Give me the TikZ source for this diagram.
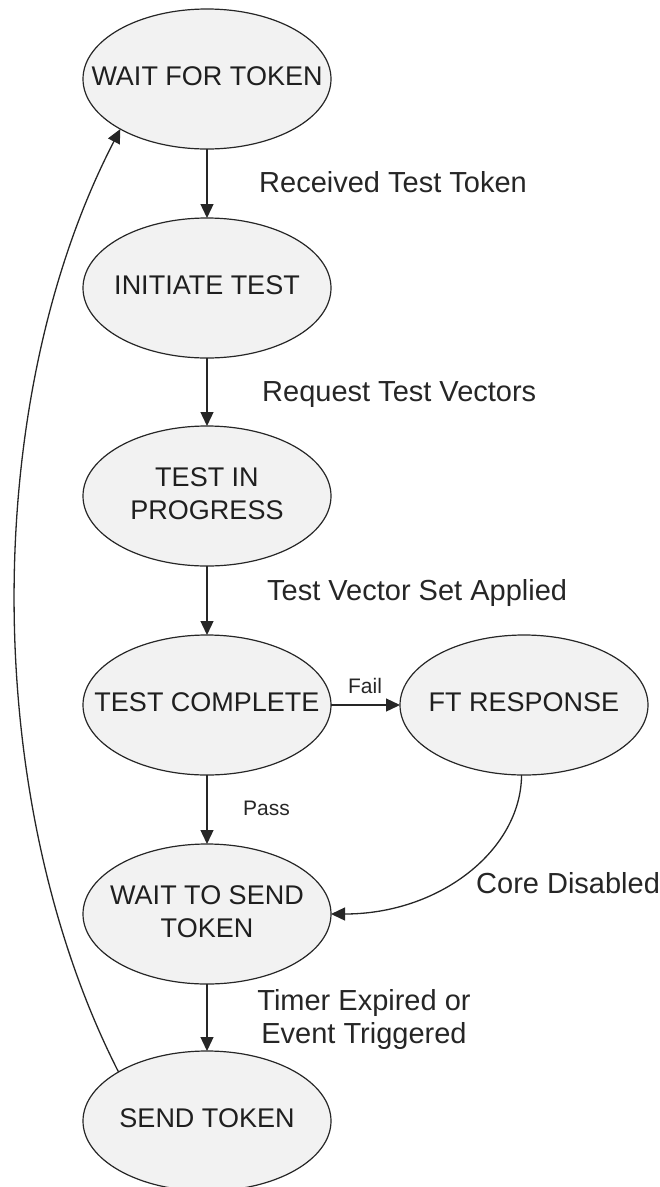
\documentclass[tikz,border=0pt]{standalone}
\usepackage{fontspec}
\setmainfont{Liberation Sans}
\usetikzlibrary{shapes.geometric, arrows.meta}
% state text: centred lines that do not widen the ellipse
\newcommand\statetext[1]{\makebox[0pt]{\begin{tabular}{@{}c@{}}#1\end{tabular}}}

\begin{document}
\begin{tikzpicture}[x=1pt, y=-1pt,
  state/.style={ellipse, draw=black!85, line width=1.2pt, fill=black!5,
    minimum width=248pt, minimum height=140pt, inner sep=0pt, outer sep=0pt,
    font=\fontsize{27}{33}\selectfont, text=black!88},
  trans/.style={draw=black!85, line width=1.3pt, -{Triangle[length=14pt,width=13pt]}},
  lbl/.style={font=\fontsize{29}{33}\selectfont, text=black!85, inner sep=0pt, anchor=base west},
  small/.style={font=\fontsize{21}{25}\selectfont, text=black!85, inner sep=0pt}]

\useasboundingbox (0,0) rectangle (660,1187);

% states
\node[state] (wait) at (207,79)   {\statetext{WAIT FOR TOKEN}};
\node[state] (init) at (207,288)  {\statetext{INITIATE TEST}};
\node[state] (prog) at (207,496)  {\statetext{TEST IN\\PROGRESS}};
\node[state] (comp) at (207,705)  {\statetext{TEST COMPLETE}};
\node[state] (ft)   at (524,705)  {\statetext{FT RESPONSE}};
\node[state] (wts)  at (207,914)  {\statetext{WAIT TO SEND\\TOKEN}};
\node[state] (send) at (207,1121) {\statetext{SEND TOKEN}};

% transitions
\draw[trans] (wait) -- (init);
\draw[trans] (init) -- (prog);
\draw[trans] (prog) -- (comp);
\draw[trans] (comp) -- (ft);
\draw[trans] (comp) -- (wts);
\draw[trans] (wts) -- (send);
\draw[trans] (ft.268) .. controls (521,850) and (440,914) .. (wts.east);
\draw[trans] (send.151) .. controls (-20,800) and (-20,400) .. (wait.210);

% transition labels
\node[lbl] (lrecv) at (259,192) {Received Test Token};
\node[lbl] (lreq)  at (262,401) {Request Test Vectors};
\node[lbl] (lapp)  at (267,600) {Test Vector Set Applied};
\node[small, anchor=base] (lfail) at (365,693) {Fail};
\node[small, anchor=base west] (lpass) at (243,815) {Pass};
\node[lbl] (lcore) at (476,893) {Core Disabled};
\node[lbl, anchor=north, align=center] (ltimer) at (364,989) {Timer Expired or\\Event Triggered};

\end{tikzpicture}
\end{document}
